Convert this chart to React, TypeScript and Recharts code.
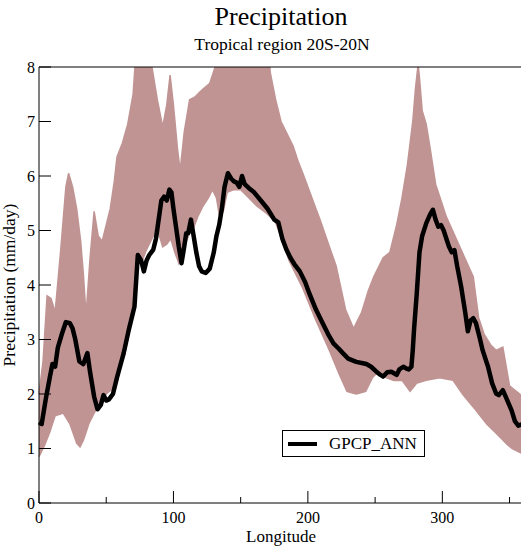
import React from 'react';
import { ComposedChart, Line, Area, XAxis, YAxis, Legend } from 'recharts';

// Zonal-mean annual precipitation, 20S-20N: model ensemble spread vs GPCP

const SERIF = "'Liberation Serif', 'Times New Roman', Times, serif";
const ENSEMBLE_COLOR = '#c19494';

const lonTicks = [0, 50, 100, 150, 200, 250, 300, 350];
const precipTicks = [0, 1, 2, 3, 4, 5, 6, 7, 8];

// GPCP observed annual mean (mm/day)
const gpcpLon = [
  0, 2, 5, 8, 10, 12, 14, 17, 20, 23, 25, 27, 30, 33, 36, 38, 41, 43.5, 46, 48, 50, 52, 55, 58,
  63, 67, 71, 73.5, 76, 78, 80, 82, 85, 87, 89, 91, 93, 95, 97, 98.5, 100, 102, 104, 106, 108,
  109.5, 111, 113, 115, 117, 119, 121, 124, 127, 130, 132, 134, 136, 138, 140.5, 143, 145, 147,
  149, 151, 153, 156, 160, 165, 170, 175, 178, 181, 184, 187, 190, 194, 198, 201, 206, 211, 215,
  219, 223, 226, 230, 236, 240, 243.5, 247, 251, 254, 256, 259, 262, 264, 266, 268, 271, 273,
  275, 277, 278, 279, 281, 283, 285, 288, 291, 293, 295, 297, 299, 301, 303, 305, 307, 309, 311,
  314, 317, 319, 321, 323, 325, 327.6, 330, 334, 337, 340, 342, 345, 348, 351.5, 354, 356.5, 360,
];
const gpcpVal = [
  1.48, 1.45, 1.9, 2.3, 2.55, 2.5, 2.85, 3.1, 3.32, 3.3, 3.2, 3.0, 2.6, 2.55, 2.75, 2.4, 1.95, 1.72,
  1.8, 1.98, 1.88, 1.9, 2.0, 2.3, 2.75, 3.2, 3.6, 4.55, 4.45, 4.25, 4.45, 4.55, 4.65, 4.85, 5.2, 5.55,
  5.62, 5.55, 5.75, 5.7, 5.4, 5.05, 4.7, 4.4, 4.7, 4.95, 4.95, 5.2, 4.9, 4.6, 4.35, 4.25, 4.22, 4.3,
  4.6, 4.9, 5.1, 5.4, 5.8, 6.05, 5.95, 5.9, 5.88, 5.8, 6.0, 5.85, 5.78, 5.7, 5.55, 5.4, 5.2, 5.15,
  4.85, 4.65, 4.5, 4.38, 4.25, 4.05, 3.85, 3.55, 3.3, 3.1, 2.93, 2.83, 2.75, 2.65, 2.59, 2.57, 2.55,
  2.5, 2.41, 2.35, 2.32, 2.4, 2.41, 2.38, 2.35, 2.45, 2.5, 2.47, 2.45, 2.5, 2.8, 3.2, 3.85, 4.6, 4.9,
  5.13, 5.3, 5.38, 5.2, 5.07, 5.1, 5.0, 4.85, 4.7, 4.6, 4.64, 4.35, 3.97, 3.5, 3.15, 3.35, 3.39, 3.3,
  3.05, 2.8, 2.5, 2.2, 2.01, 1.98, 2.07, 1.9, 1.7, 1.5, 1.42, 1.45,
];

// ensemble spread: highest member (values above 8 run off the top of the frame)
const spreadHighLon = [
  0, 3, 6, 9, 12, 16, 20, 22, 25, 28, 31, 33, 35, 38, 41, 44, 47, 50, 53, 56, 58, 62, 66, 70, 73,
  80, 84, 88, 92, 95, 97.5, 100, 103, 105, 108, 112, 116, 120, 127, 131, 133, 170, 172, 176, 180,
  189, 193, 197, 209, 221, 228, 234, 240, 245, 249, 256, 261, 266, 270, 274, 278, 280, 282, 283,
  285, 288, 291, 295, 303, 313, 323, 327, 331, 336, 340, 345, 350, 355, 360,
];
const spreadHigh = [
  2.0, 2.6, 3.8, 3.75, 3.5, 4.6, 5.8, 6.05, 5.8, 5.4, 4.8, 4.2, 3.45, 4.5, 5.35, 4.9, 4.8, 5.1,
  5.4, 5.9, 6.35, 6.6, 6.95, 7.5, 8.6, 8.6, 8.0, 7.4, 6.9, 7.3, 7.85, 7.3, 6.5, 6.1, 6.8, 7.4, 7.45,
  7.55, 7.7, 8.0, 8.6, 8.6, 7.9, 7.4, 7.0, 6.55, 6.25, 6.0, 5.2, 4.35, 3.55, 3.2, 3.5, 3.9, 4.15,
  4.5, 4.6, 5.1, 5.6, 6.2, 7.0, 7.6, 8.05, 7.8, 7.2, 6.95, 6.5, 5.85, 5.25, 4.7, 4.15, 3.4, 3.1,
  2.9, 2.8, 2.86, 2.15, 2.05, 1.95,
];

// ensemble spread: lowest member
const spreadLowLon = [
  0, 4, 8, 12, 18, 23, 28, 30.5, 33, 37, 41, 45, 50, 55, 59, 64, 68, 72, 74, 76, 80, 85, 89, 92,
  95, 98, 101, 104, 108, 112, 115, 118, 122, 126, 129, 132, 134, 137, 140, 145, 150, 156, 162,
  170, 176, 181, 186, 196, 206, 216, 223, 229, 236, 243, 248, 252, 258, 264, 270, 276, 281, 288,
  298, 308, 315, 320, 325, 333, 340, 348, 352, 356, 360,
];
const spreadLow = [
  0.85, 1.05, 1.3, 1.6, 1.65, 1.45, 1.1, 1.03, 1.15, 1.45, 1.65, 1.8, 2.0, 2.1, 2.38, 2.75, 3.35,
  4.0, 4.4, 4.4, 4.65, 4.9, 4.95, 4.7, 4.75, 4.85, 4.6, 4.4, 4.7, 4.95, 5.05, 5.25, 5.45, 5.6,
  5.75, 5.6, 5.3, 5.35, 5.7, 5.75, 5.75, 5.6, 5.45, 5.3, 5.15, 4.8, 4.45, 3.95, 3.35, 2.8, 2.38,
  2.05, 2.0, 2.05, 2.3, 2.4, 2.3, 2.25, 2.25, 2.05, 2.2, 2.25, 2.3, 2.25, 2.0, 1.85, 1.7, 1.45,
  1.28, 1.08, 1.0, 0.95, 0.9,
];

// linear read of a polyline at a given longitude
const valueAt = (lons: number[], vals: number[], lon: number) => {
  for (let i = 1; i < lons.length; i++) {
    if (lon <= lons[i]) {
      const t = (lon - lons[i - 1]) / (lons[i] - lons[i - 1]);
      return vals[i - 1] + t * (vals[i] - vals[i - 1]);
    }
  }
  return vals[vals.length - 1];
};

const spreadLon = Array.from(new Set([...spreadHighLon, ...spreadLowLon])).sort((a, b) => a - b);
const spreadData = spreadLon.map((lon) => ({
  lon,
  low: valueAt(spreadLowLon, spreadLow, lon),
  high: valueAt(spreadHighLon, spreadHigh, lon),
}));
const gpcpData = gpcpLon.map((lon, i) => ({ lon, gpcp: gpcpVal[i] }));

const XTick = ({ x, y, payload }: any) => {
  const major = payload.value % 100 === 0;
  return (
    <g>
      <line x1={x} y1={y} x2={x} y2={y - (major ? 12 : 6)} stroke="#000" strokeWidth={1} />
      {major && (
        <text x={x} y={y + 19.5} textAnchor="middle" fontFamily={SERIF} fontSize={16} fill="#000">
          {payload.value}
        </text>
      )}
    </g>
  );
};

const YTick = ({ x, y, payload }: any) => (
  <g>
    <line x1={x} y1={y} x2={x + 12} y2={y} stroke="#000" strokeWidth={1} />
    <text x={x - 4} y={y + 5.5} textAnchor="end" fontFamily={SERIF} fontSize={16} fill="#000">
      {payload.value}
    </text>
  </g>
);

const renderLegend = () => (
  <div
    style={{
      width: 141,
      height: 25,
      border: '1px solid #000',
      background: '#fff',
      display: 'flex',
      alignItems: 'center',
      fontFamily: SERIF,
      fontSize: 17,
      color: '#000',
    }}
  >
    <span style={{ display: 'inline-block', width: 29, height: 4, background: '#000', marginLeft: 5, marginRight: 12 }} />
    <span>GPCP_ANN</span>
  </div>
);

export default function App() {
  return (
    <div style={{ position: 'absolute', left: 0, top: 0, width: 521, height: 546, overflow: 'hidden', background: '#fff' }}>
      <ComposedChart width={531} height={546} margin={{ top: 66, right: 8, bottom: 42, left: 38 }}>
        <XAxis
          dataKey="lon"
          type="number"
          domain={[0, 360]}
          ticks={lonTicks}
          interval={0}
          height={1}
          tickSize={0}
          tickMargin={0}
          tickLine={false}
          axisLine={{ stroke: '#000', strokeWidth: 1 }}
          tick={<XTick />}
        />
        <XAxis
          xAxisId="top"
          orientation="top"
          type="number"
          domain={[0, 360]}
          height={1}
          tickSize={0}
          tick={false}
          tickLine={false}
          axisLine={{ stroke: '#000', strokeWidth: 1 }}
        />
        <YAxis
          type="number"
          domain={[0, 8]}
          ticks={precipTicks}
          interval={0}
          width={1}
          allowDataOverflow
          tickSize={0}
          tickMargin={0}
          tickLine={false}
          axisLine={{ stroke: '#000', strokeWidth: 1 }}
          tick={<YTick />}
        />
        <Area
          data={spreadData}
          dataKey={(d: any) => [d.low, d.high]}
          type="linear"
          fill={ENSEMBLE_COLOR}
          fillOpacity={1}
          stroke={ENSEMBLE_COLOR}
          strokeWidth={1.5}
          dot={false}
          activeDot={false}
          legendType="none"
          isAnimationActive={false}
        />
        <Line
          data={gpcpData}
          dataKey="gpcp"
          name="GPCP_ANN"
          type="linear"
          stroke="#000"
          strokeWidth={4.5}
          strokeLinejoin="round"
          dot={false}
          activeDot={false}
          isAnimationActive={false}
        />
        <Legend
          layout="vertical"
          align="center"
          verticalAlign="middle"
          content={renderLegend}
          wrapperStyle={{ left: 282, top: 430, width: 143, height: 27 }}
        />
      </ComposedChart>
      <svg
        width={521}
        height={546}
        style={{ position: 'absolute', left: 0, top: 0, pointerEvents: 'none' }}
        fontFamily={SERIF}
        fill="#000"
      >
        <text x={281} y={25} textAnchor="middle" fontSize={26}>
          Precipitation
        </text>
        <text x={282} y={49.5} textAnchor="middle" fontSize={17.5}>
          Tropical region 20S-20N
        </text>
        <text x={281} y={541.5} textAnchor="middle" fontSize={17}>
          Longitude
        </text>
        <text x={15} y={285} textAnchor="middle" fontSize={17.5} transform="rotate(-90 15 285)">
          Precipitation (mm/day)
        </text>
      </svg>
    </div>
  );
}
